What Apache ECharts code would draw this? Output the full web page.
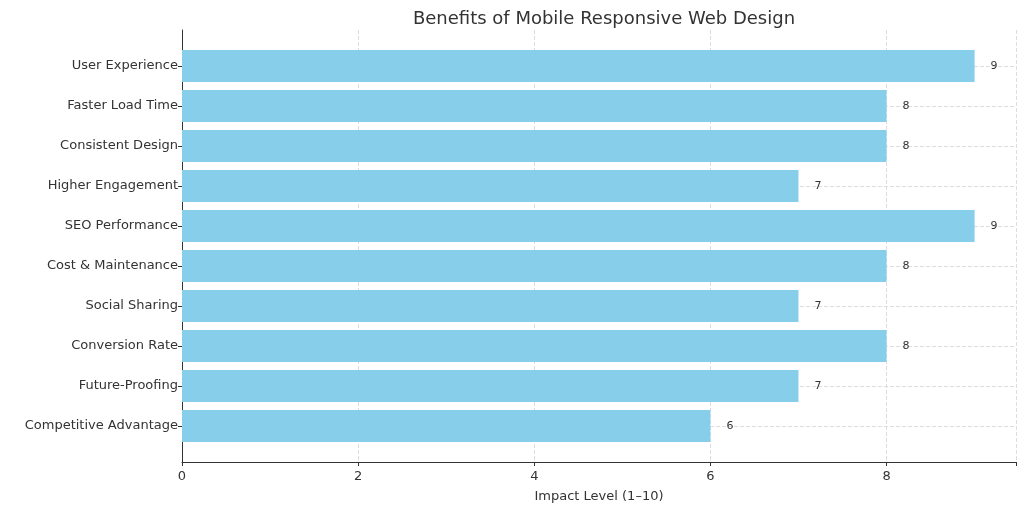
<!DOCTYPE html>
<html><head><meta charset="utf-8">
<script src="https://cdn.jsdelivr.net/npm/echarts@6/dist/echarts.min.js"></script>
<style>html,body{margin:0;padding:0;background:#fff}#c{width:1024px;height:508px}</style>
</head><body><div id="c"></div>
<script>
const categories = ["User Experience","Faster Load Time","Consistent Design","Higher Engagement","SEO Performance","Cost & Maintenance","Social Sharing","Conversion Rate","Future-Proofing","Competitive Advantage"];
const values = [9,8,8,7,9,8,7,8,7,6];
const xTicks = [0,2,4,6,8];
const font = "DejaVu Sans";
const chart = echarts.init(document.getElementById('c'));
chart.setOption({
  animation:false,
  textStyle:{fontFamily:font},
  title:{text:"Benefits of Mobile Responsive Web Design",left:599,textAlign:'center',top:5,textStyle:{fontFamily:font,fontSize:18,fontWeight:'normal',color:'#333'}},
  grid:[
    {left:182,right:8,top:66,bottom:82},
    {left:182,right:8,top:30,bottom:46}
  ],
  xAxis:[
    {gridIndex:0,type:'value',min:0,max:9.47,show:false,interval:2},
    {gridIndex:1,type:'value',min:0,max:9.47,interval:2,
     axisLine:{show:true,lineStyle:{color:'#333'}},axisTick:{show:true,length:4,lineStyle:{color:'#333'}},
     axisLabel:{color:'#333',fontSize:13,fontFamily:font,customValues:xTicks,formatter:v=>xTicks.includes(v)?String(v):''},
     splitLine:{show:true,lineStyle:{type:'dashed',color:'#ddd'}},
     name:"Impact Level (1–10)",nameLocation:'middle',nameGap:28,nameTextStyle:{color:'#333',fontSize:13,fontFamily:font}}
  ],
  yAxis:[
    {gridIndex:0,type:'category',data:categories,inverse:true,boundaryGap:false,
     axisLine:{show:false},axisTick:{show:true,length:4,lineStyle:{color:'#333'}},
     axisLabel:{color:'#333',fontSize:13,fontFamily:font,margin:4},
     splitLine:{show:true,lineStyle:{type:'dashed',color:'#ddd'}}},
    {gridIndex:1,type:'value',min:0,max:1,
     axisLine:{show:true,lineStyle:{color:'#333'}},axisTick:{show:false},axisLabel:{show:false},splitLine:{show:false}}
  ],
  series:[{
    type:'bar',xAxisIndex:0,yAxisIndex:0,data:values,barWidth:32,
    itemStyle:{color:'#87CEEB'},
    label:{show:true,position:'right',distance:16,color:'#333',fontSize:11,fontFamily:font}
  }]
});
</script></body></html>
